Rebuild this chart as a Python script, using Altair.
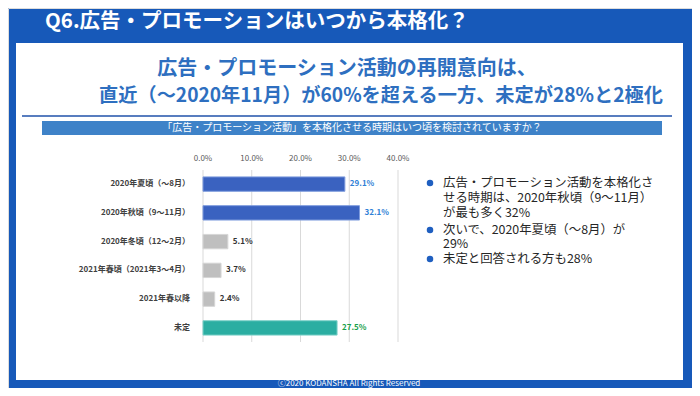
import altair as alt
import pandas as pd

# ---- data ----
categories = ["2020年夏頃（～8月）", "2020年秋頃（9～11月）", "2020年冬頃（12～2月）",
              "2021年春頃（2021年3～4月）", "2021年春以降", "未定"]
values = [0.291, 0.321, 0.051, 0.037, 0.024, 0.275]
labels = ["29.1%", "32.1%", "5.1%", "3.7%", "2.4%", "27.5%"]
bar_colors = ["#3A62C0", "#3A62C0", "#BFBFBF", "#BFBFBF", "#BFBFBF", "#2BAEA2"]
bar_strokes = ["#7F9CDD", "#7F9CDD", "#D6D6D6", "#D6D6D6", "#D6D6D6", "#7FD2CA"]
label_colors = ["#2F7FD6", "#2F7FD6", "#333333", "#333333", "#333333", "#17A04A"]
tick_values = [0.0, 0.1, 0.2, 0.3, 0.4]
tick_labels = ["0.0%", "10.0%", "20.0%", "30.0%", "40.0%"]

title_text = "Q6.広告・プロモーションはいつから本格化？"
headline_1 = "広告・プロモーション活動の再開意向は、"
headline_2 = "直近（～2020年11月）が60%を超える一方、未定が28%と2極化"
question_text = "「広告・プロモーション活動」を本格化させる時期はいつ頃を検討されていますか？"
bullet_lines = ["広告・プロモーション活動を本格化さ", "せる時期は、2020年秋頃（9～11月）",
                "が最も多く32%", "次いで、2020年夏頃（～8月）が", "29%", "未定と回答される方も28%"]
bullet_marks = [True, False, False, True, False, True]
footer_text = "ⓒ2020 KODANSHA All Rights Reserved"

FONT = "Noto Sans CJK JP"
BLUE = "#1759B9"

df = pd.DataFrame({"category": categories, "value": values, "label": labels,
                   "color": bar_colors, "stroke": bar_strokes, "lcolor": label_colors})
one = pd.DataFrame({"a": [0]})
ticks_df = pd.DataFrame({"t": tick_values, "tl": tick_labels})

xscale = alt.Scale(domain=[0, 0.4], range=[195, 390])
yscale = alt.Scale(domain=categories, range=[162, 334], paddingInner=0.5, paddingOuter=0.24)

# ---- decorations ----
panel = alt.Chart(one).mark_rect(color="white").encode(
    x=alt.value(8), x2=alt.value(675), y=alt.value(35), y2=alt.value(372))
separator = alt.Chart(one).mark_rule(color="#2152AA", strokeWidth=1.6).encode(
    x=alt.value(14), x2=alt.value(664), y=alt.value(108))
banner = alt.Chart(one).mark_rect(color="#3E82C8").encode(
    x=alt.value(34), x2=alt.value(654), y=alt.value(113), y2=alt.value(127))

def text_layer(txt, x, y, size, color, weight="normal", align="center"):
    return alt.Chart(pd.DataFrame({"t": [txt]})).mark_text(
        font=FONT, fontSize=size, fontWeight=weight, color=color, align=align,
        baseline="middle").encode(x=alt.value(x), y=alt.value(y), text="t:N")

title = text_layer(title_text, 37, 14, 20.5, "white", "bold", "left")
head1 = text_layer(headline_1, 339, 61, 20, "#2E6FC0", "bold")
head2 = text_layer(headline_2, 373, 88, 19.2, "#2E6FC0", "bold")
question = text_layer(question_text, 344, 120, 10, "white")
footer = text_layer(footer_text, 341, 376, 8, "white")

# ---- chart ----
grid = alt.Chart(ticks_df).mark_rule(color="#D9D9D9", strokeWidth=1).encode(
    x=alt.X("t:Q", scale=xscale, axis=None), y=alt.value(162), y2=alt.value(334))

x_labels = alt.Chart(ticks_df).mark_text(font=FONT, fontSize=8, color="#595959",
                                         baseline="middle").encode(
    x=alt.X("t:Q", scale=xscale, axis=None), y=alt.value(151), text="tl:N")

bars = alt.Chart(df).mark_bar(strokeWidth=1).encode(
    x=alt.X("value:Q", scale=xscale, axis=None),
    y=alt.Y("category:N", scale=yscale, sort=categories, axis=None),
    color=alt.Color("color:N", scale=None),
    stroke=alt.Stroke("stroke:N", scale=None),
)

y_labels = alt.Chart(df).mark_text(align="right", baseline="middle", font=FONT,
                                   fontSize=8, fontWeight="bold", color="#404040").encode(
    x=alt.value(182),
    y=alt.Y("category:N", scale=yscale, sort=categories, axis=None),
    text="category:N",
)

bar_labels = alt.Chart(df).mark_text(align="left", dx=5, baseline="middle", font=FONT,
                                     fontSize=8, fontWeight="bold").encode(
    x=alt.X("value:Q", scale=xscale, axis=None),
    y=alt.Y("category:N", scale=yscale, sort=categories, axis=None),
    text="label:N",
    color=alt.Color("lcolor:N", scale=None),
)

# ---- bullets ----
line_y = [175, 190, 205, 222, 236, 251]
bdf = pd.DataFrame({"line": bullet_lines, "mark": bullet_marks, "py": line_y})
bullet_text = alt.Chart(bdf).mark_text(align="left", baseline="middle", font=FONT,
                                       fontSize=12.4, color="#262626").encode(
    x=alt.value(435), y=alt.Y("py:Q", scale=None), text="line:N")
bullet_dots = alt.Chart(bdf).transform_filter("datum.mark").mark_circle(
    color="#1F5FC0", opacity=1, size=42).encode(
    x=alt.value(422), y=alt.Y("py:Q", scale=None))

chart = alt.layer(
    panel, separator, banner, title, head1, head2, question, footer,
    grid, x_labels, bars, y_labels, bar_labels, bullet_text, bullet_dots
).properties(
    width=684, height=380, padding=0,
    autosize=alt.AutoSizeParams(type="none"),
    background=BLUE,
).configure_view(strokeWidth=0).configure(font=FONT)

chart.save("out.html", embed_options={"renderer": "svg", "actions": False})
